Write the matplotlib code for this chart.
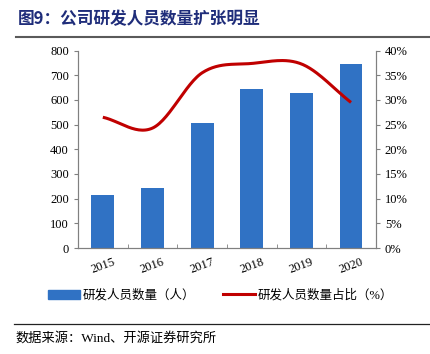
import numpy as np
import matplotlib
matplotlib.use("Agg")
import matplotlib.pyplot as plt
from matplotlib.lines import Line2D
from matplotlib.patches import Patch

plt.rcParams['font.family'] = ['Liberation Serif', 'Noto Sans CJK SC', 'DejaVu Sans']

years = ['2015', '2016', '2017', '2018', '2019', '2020']
staff = [215, 242, 506, 645, 628, 746]
share = [26.5, 24.3, 35.5, 37.4, 37.3, 29.5]

bar_color = '#3072C4'
line_color = '#C00000'
axis_color = '#808080'


def catmull_rom(xs, ys, n=30):
    # Excel-style smoothed line through the points
    xs = np.asarray(xs, float)
    ys = np.asarray(ys, float)
    px = np.concatenate([[2 * xs[0] - xs[1]], xs, [2 * xs[-1] - xs[-2]]])
    py = np.concatenate([[2 * ys[0] - ys[1]], ys, [2 * ys[-1] - ys[-2]]])
    outx, outy = [], []
    t = np.linspace(0, 1, n)
    for i in range(1, len(px) - 2):
        for arr, out in ((px, outx), (py, outy)):
            p0, p1, p2, p3 = arr[i - 1:i + 3]
            out.extend(0.5 * ((2 * p1) + (-p0 + p2) * t
                              + (2 * p0 - 5 * p1 + 4 * p2 - p3) * t ** 2
                              + (-p0 + 3 * p1 - 3 * p2 + p3) * t ** 3))
    return np.array(outx), np.array(outy)


fig = plt.figure(figsize=(4.31, 3.54), dpi=100)
ax = fig.add_axes([0.181, 0.2994, 0.691, 0.5576])
x = np.arange(len(years))
ax.bar(x, staff, width=0.46, color=bar_color, zorder=2)
ax.set_xlim(-0.5, len(years) - 0.5)
ax.set_ylim(0, 800)
ax.set_yticks(range(0, 801, 100))
ax.set_xticks(x)
ax.set_xticklabels(years, rotation=20, fontsize=9)
ax.set_xticks(np.arange(-0.5, len(years), 1), minor=True)
ax.tick_params(axis='x', which='major', length=0, pad=6)
ax.tick_params(axis='x', which='minor', length=3, direction='in', color=axis_color)
ax.tick_params(axis='y', length=3, color=axis_color, labelsize=9)
ax.spines['top'].set_visible(False)
for s in ('left', 'bottom', 'right'):
    ax.spines[s].set_color(axis_color)

ax2 = ax.twinx()
sx, sy = catmull_rom(x, share)
ax2.plot(sx, sy, color=line_color, lw=2.2, solid_capstyle='butt', zorder=3)
ax2.set_ylim(0, 40)
ax2.set_yticks(range(0, 41, 5))
ax2.set_yticklabels([f'{v}%' for v in range(0, 41, 5)])
ax2.tick_params(axis='y', length=3, color=axis_color, labelsize=9)
ax2.spines['top'].set_visible(False)
for s in ('left', 'bottom', 'right'):
    ax2.spines[s].set_color(axis_color)

handles = [Patch(color=bar_color), Line2D([], [], color=line_color, lw=2.2)]
labels = ['研发人员数量（人）', '研发人员数量占比（%）']
fig.legend(handles, labels, loc='center left', bbox_to_anchor=(0.085, 0.165),
           ncol=2, frameon=False, fontsize=9, handlelength=2.6,
           handletextpad=0.2, columnspacing=2.2)

fig.text(0.042, 0.945, '图9：公司研发人员数量扩张明显', fontsize=12, fontweight='bold',
         color='#1F2D7A', va='center', family=['Noto Sans CJK SC', 'DejaVu Sans'])
fig.add_artist(Line2D([0.037, 1.0], [0.896, 0.896], color='#5a5a5a', lw=1.5))
fig.add_artist(Line2D([0.033, 1.0], [0.085, 0.085], color='#222222', lw=0.9))
fig.text(0.037, 0.045, '数据来源：Wind、开源证券研究所', fontsize=9.5, va='center')

fig.savefig('out.png', dpi=100)
